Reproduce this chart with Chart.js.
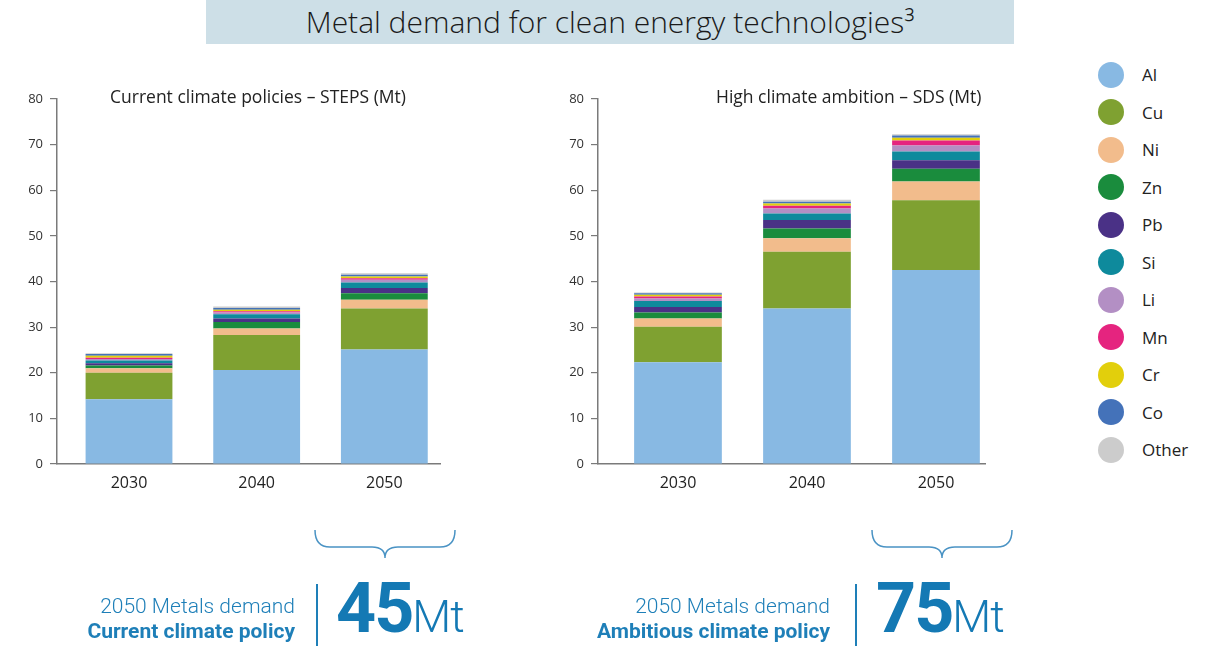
<!DOCTYPE html>
<html>
<head>
<meta charset="utf-8">
<script src="https://cdn.jsdelivr.net/npm/chart.js@4.4.1/dist/chart.umd.min.js"></script>
<style>
  html, body { margin: 0; padding: 0; }
  body { width: 1218px; height: 646px; position: relative; overflow: hidden; background: #fff; font-family: 'Open Sans', sans-serif; color: #222; }
  .banner { position: absolute; left: 206px; top: 0; width: 808px; height: 44px; background: #cddfe7; }
  .banner span { position: absolute; left: 0; right: 0; top: 2px; text-align: center; font-size: 30px; font-weight: 300; line-height: 40px; color: #1a1a1a; }
  .box { position: absolute; }
  .subtitle { position: absolute; font-size: 17.5px; color: #222; white-space: nowrap; }
  .legend { position: absolute; left: 1098px; top: 56px; }
  .legend .item { height: 37.5px; display: flex; align-items: center; }
  .legend .dot { width: 26px; height: 26px; border-radius: 50%; margin-right: 18px; }
  .legend .txt { font-size: 17px; color: #222; }
  .note { position: absolute; color: #1e7fb8; font-family: Roboto, sans-serif; white-space: nowrap; text-align: right; }
  .note .l1 { font-size: 21px; line-height: 25px; font-weight: 300; }
  .note .l2 { font-size: 21px; line-height: 25px; font-weight: 700; }
  .vline { position: absolute; width: 2px; background: #1e7fb8; top: 584px; height: 62px; }
  .big { position: absolute; color: #1479b4; font-family: Roboto, sans-serif; white-space: nowrap; top: 568px; line-height: 80px; }
  .big b { font-size: 70px; font-weight: 700; letter-spacing: -2px; }
  .big i { font-style: normal; font-size: 45px; font-weight: 300; letter-spacing: -1px; }
  svg.brace { position: absolute; left: 0; top: 0; }
</style>
</head>
<body>
<div class="banner"><span>Metal demand for clean energy technologies³</span></div>

<div class="box" style="left:0;top:60px;width:460px;height:440px;"><canvas id="steps" width="460" height="440"></canvas></div>
<div class="box" style="left:540px;top:60px;width:465px;height:440px;"><canvas id="sds" width="465" height="440"></canvas></div>

<div class="subtitle" style="left:110px;top:84px;">Current climate policies – STEPS (Mt)</div>
<div class="subtitle" style="left:716px;top:84px;">High climate ambition – SDS (Mt)</div>

<div class="legend" id="legend"></div>

<svg class="brace" width="1218" height="646">
  <path d="M315,530 Q315,547 330,547 L372,547 Q385,547 385,558 Q385,547 398,547 L440,547 Q455,547 455,530" fill="none" stroke="#4a93c4" stroke-width="1.5"/>
  <path d="M872,530 Q872,547 887,547 L929,547 Q942,547 942,558 Q942,547 955,547 L997,547 Q1012,547 1012,530" fill="none" stroke="#4a93c4" stroke-width="1.5"/>
</svg>

<div class="note" style="right:923px;top:594px;"><div class="l1">2050 Metals demand</div><div class="l2">Current climate policy</div></div>
<div class="vline" style="left:316px;"></div>
<div class="big" style="left:336px;"><b>45</b><i>Mt</i></div>

<div class="note" style="right:388px;top:594px;"><div class="l1">2050 Metals demand</div><div class="l2">Ambitious climate policy</div></div>
<div class="vline" style="left:855px;"></div>
<div class="big" style="left:876px;"><b>75</b><i>Mt</i></div>

<script>
// Years on the x axis and metals in stacking order
const years = [2030, 2040, 2050];
const metals = ['Al', 'Cu', 'Ni', 'Zn', 'Pb', 'Si', 'Li', 'Mn', 'Cr', 'Co', 'Other'];
const metalColors = ['#88b9e3', '#7fa131', '#f2bc8c', '#1a8c3d', '#4a3186', '#0e8a9c', '#b38fc4', '#e5247f', '#e2cf0c', '#4472b9', '#cccccc'];

// Demand per metal (Mt), one list per scenario and year, in the order of `metals`
const steps2030 = [14.2, 5.8, 1.0, 0.6, 0.5, 0.6, 0.3, 0.3, 0.4, 0.4, 0.2];
const steps2040 = [20.6, 7.7, 1.4, 1.4, 0.8, 0.9, 0.4, 0.3, 0.3, 0.4, 0.3];
const steps2050 = [25.1, 9.0, 1.9, 1.4, 1.2, 1.2, 0.6, 0.3, 0.4, 0.4, 0.3];
const sds2030 = [22.3, 7.8, 1.8, 1.3, 1.2, 1.3, 0.6, 0.4, 0.4, 0.3, 0.2];
const sds2040 = [34.1, 12.4, 3.0, 2.1, 1.9, 1.4, 1.1, 0.6, 0.5, 0.4, 0.4];
const sds2050 = [42.5, 15.3, 4.1, 2.8, 1.9, 1.9, 1.3, 1.1, 0.6, 0.5, 0.3];

// Y axis ticks
const yTicks = [0, 10, 20, 30, 40, 50, 60, 70, 80];

function buildDatasets(byYear) {
  return metals.map((m, i) => ({
    label: m,
    data: byYear.map((row, k) => ({ x: years[k], y: row[i] })),
    backgroundColor: metalColors[i],
    borderWidth: 0,
    stack: 'total',
    barPercentage: 0.68,
    categoryPercentage: 1.0
  }));
}

function makeChart(id, byYear, yWidth, xMin, xMax) {
  const axisColor = '#7a7a7a';
  return new Chart(document.getElementById(id), {
    type: 'bar',
    data: { datasets: buildDatasets(byYear) },
    options: {
      responsive: false,
      animation: false,
      devicePixelRatio: 1,
      layout: { padding: { top: 39, right: 20, left: 0, bottom: 0 } },
      plugins: { legend: { display: false }, tooltip: { enabled: false } },
      scales: {
        x: {
          type: 'linear',
          stacked: true,
          offset: false,
          min: xMin,
          max: xMax,
          afterBuildTicks: s => { s.ticks = years.map(v => ({ value: v })); },
          grid: { display: false, offset: false },
          border: { display: true, color: axisColor, width: 1.5 },
          ticks: { font: { family: 'Open Sans', size: 16 }, color: '#222', padding: 2, callback: v => String(v) },
          afterFit: s => { s.height = 36; }
        },
        y: {
          stacked: true,
          min: 0,
          max: 80,
          afterBuildTicks: s => { s.ticks = yTicks.map(v => ({ value: v })); },
          grid: { display: true, drawOnChartArea: false, drawTicks: true, tickLength: 7, color: axisColor, lineWidth: 1.2 },
          border: { display: true, color: axisColor, width: 1.5 },
          ticks: { font: { family: 'Open Sans', size: 13 }, color: '#333', padding: 7 },
          afterFit: s => { s.width = yWidth; }
        }
      }
    }
  });
}

makeChart('steps', [steps2030, steps2040, steps2050], 57, 2024.36, 2054.36);
makeChart('sds', [sds2030, sds2040, sds2050], 58, 2023.8, 2053.8);

// Legend built from the metals list
const legend = document.getElementById('legend');
metals.forEach((m, i) => {
  const item = document.createElement('div');
  item.className = 'item';
  item.innerHTML = '<div class="dot" style="background:' + metalColors[i] + '"></div><div class="txt">' + m + '</div>';
  legend.appendChild(item);
});
</script>
</body>
</html>
